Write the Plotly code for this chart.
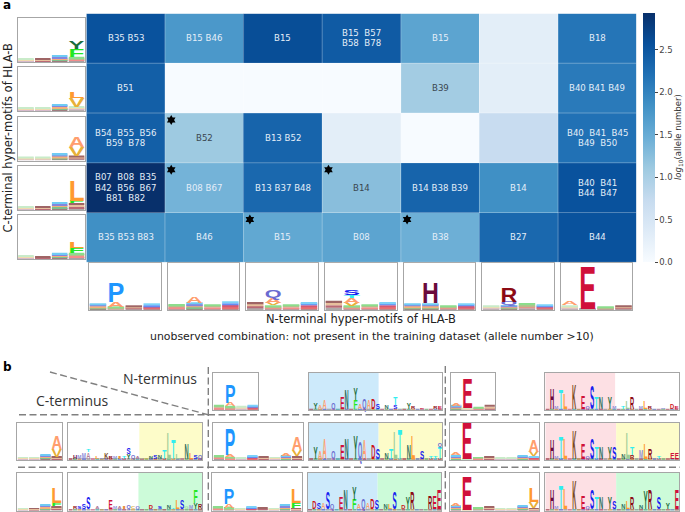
import plotly.graph_objects as go

W, H = 685, 512

# ---------- panel a data ----------
col_index = [0, 1, 2, 3, 4, 5, 6]
row_index = [0, 1, 2, 3, 4]
allele_log10 = [
    [2.55, 1.75, 2.60, 2.45, 1.60, 0.30, 2.15],
    [2.40, 0.00, 0.00, 0.00, 1.05, 0.30, 2.10],
    [2.40, 1.10, 2.35, 0.30, 0.00, 0.70, 2.20],
    [2.93, 1.40, 2.30, 1.25, 2.35, 1.85, 2.55],
    [1.85, 1.85, 1.55, 1.60, 1.45, 2.30, 2.55],
]
cell_labels = [
    [["B35 B53"], ["B15 B46"], ["B15"], ["B15  B57", "B58  B78"], ["B15"], [], ["B18"]],
    [["B51"], [], [], [], ["B39"], [], ["B40 B41 B49"]],
    [["B54  B55  B56", "B59  B78"], ["B52"], ["B13 B52"], [], [], [], ["B40  B41  B45", "B49  B50"]],
    [["B07  B08  B35", "B42  B56  B67", "B81  B82"], ["B08 B67"], ["B13 B37 B48"], ["B14"],
     ["B14 B38 B39"], ["B14"], ["B40  B41", "B44  B47"]],
    [["B35 B53 B83"], ["B46"], ["B15"], ["B08"], ["B38"], ["B27"], ["B44"]],
]
dark_label_cells = [(2, 1), (1, 4), (3, 3)]
star_cols = [1, 1, 3, 2, 4]
star_rows = [2, 3, 3, 4, 4]
cbar_ticks = [0.0, 0.5, 1.0, 1.5, 2.0, 2.5]
blues = ["#f7fbff", "#deebf7", "#c6dbef", "#9ecae1", "#6baed6", "#4292c6", "#2171b5", "#08519c", "#08306b"]

# ---------- logo colours ----------
letter_color = {
    "A": "#ff9e6e", "C": "#d8b030", "D": "#cc1018", "E": "#d0103a", "F": "#22e822", "G": "#a8d8a0",
    "H": "#6a0a3c", "I": "#e89040", "K": "#7a4a20", "L": "#ff9a30", "M": "#8f8fd8", "N": "#2f6f5f",
    "P": "#1e96ff", "Q": "#6a6ad0", "R": "#8c0a14", "S": "#1420f0", "T": "#30eef0", "V": "#e8b038",
    "W": "#40a0a0", "Y": "#1c6e3c", "l": "#9acb96", "a": "#b07a9a",
}
BRIGHT = ["#7c4a50", "#50a860", "#f09048", "#5858d0", "#38b8f0"]
PALE = ["#9a8f90", "#c8a0b8", "#eccc90", "#b4e4b4"]
HOT = ["#8a6a70", "#e03a3a", "#c81840", "#2a60f0", "#48c0f8"]
MAROON = ["#908888", "#a03040", "#e0a878", "#7a2a2a"]
GREEN = ["#8a7a80", "#f06060", "#a0a060", "#60d060"]
base_strip = ["#a04050", "#60a070", "#c08040", "#5060c0", "#909090", "#c06080", "#40a0a0", "#a08040",
              "#7060a0", "#b05050", "#60a070", "#5070c0", "#a04060", "#909090", "#c09040", "#4090a0",
              "#a05070", "#70a060", "#6060b0", "#b06040", "#809090", "#a04050", "#50a080", "#c08050",
              "#6070b0", "#a06080", "#70a070", "#b05060", "#6080b0", "#a04050"]

# ---------- logos: letters are (position, letter, height); strips are (position, height, palette) ----------
c_Y = dict(strips=[(0, .07, PALE), (1, .07, MAROON), (2, .15, BRIGHT), (3, .12, GREEN)],
           letters=[(3, "F", .17), (3, "Y", .17)])
c_L1 = dict(strips=[(0, .08, PALE), (1, .07, PALE), (2, .16, BRIGHT), (3, .10, PALE)],
            letters=[(3, "V", .20), (3, "L", .15)])
c_A = dict(strips=[(0, .07, PALE), (1, .07, PALE), (2, .17, BRIGHT), (3, .10, MAROON)],
           letters=[(3, "V", .21), (3, "A", .23)])
c_L2 = dict(strips=[(0, .08, PALE), (1, .08, MAROON), (2, .18, BRIGHT), (3, .16, MAROON)],
            letters=[(3, "F", .05), (3, "L", .45)])
c_L3 = dict(strips=[(0, .07, PALE), (1, .05, MAROON), (2, .14, BRIGHT), (3, .14, GREEN)],
            letters=[(3, "F", .10), (3, "L", .15)])
n_P = dict(strips=[(0, .14, BRIGHT), (1, .06, GREEN), (2, .09, MAROON), (3, .13, HOT)],
           letters=[(1, "A", .11), (1, "P", .41)])
n_A = dict(strips=[(0, .13, GREEN), (1, .16, BRIGHT), (2, .12, GREEN), (3, .18, HOT)],
           letters=[(1, "A", .14)])
n_Q = dict(strips=[(0, .17, MAROON), (1, .10, GREEN), (2, .12, GREEN), (3, .17, HOT)],
           letters=[(1, "V", .06), (1, "A", .10), (1, "Q", .16)])
n_S = dict(strips=[(0, .20, MAROON), (1, .08, GREEN), (2, .12, GREEN), (3, .17, HOT)],
           letters=[(1, "V", .08), (1, "A", .10), (1, "T", .06), (1, "S", .10)])
n_H = dict(strips=[(0, .14, BRIGHT), (1, .14, BRIGHT), (2, .10, GREEN), (3, .14, HOT)],
           letters=[(1, "H", .44)])
n_R = dict(strips=[(0, .10, PALE), (1, .10, BRIGHT), (2, .15, GREEN), (3, .12, HOT)],
           letters=[(1, "Q", .07), (1, "R", .30)])
n_E = dict(strips=[(0, .10, PALE), (1, .03, BRIGHT), (2, .07, GREEN), (3, .10, MAROON)],
           letters=[(0, "A", .08), (1, "E", .89)])

b_P = dict(strips=[(0, .13, GREEN), (1, .10, GREEN), (2, .09, PALE), (3, .13, HOT)],
           letters=[(1, "A", .10), (1, "P", .47)])
b_E = dict(strips=[(0, .12, BRIGHT), (1, .05, PALE), (2, .08, GREEN), (3, .12, MAROON)],
           letters=[(0, "A", .08), (1, "E", .79)])
b_A = dict(strips=[(0, .08, PALE), (1, .08, PALE), (2, .16, BRIGHT), (3, .09, MAROON)],
           letters=[(3, "V", .21), (3, "A", .34)])
b_L = dict(strips=[(0, .07, PALE), (1, .07, MAROON), (2, .17, BRIGHT), (3, .12, MAROON)],
           letters=[(3, "F", .08), (3, "L", .40)])
b_PA = dict(strips=[(0, .12, GREEN), (1, .08, GREEN), (2, .07, PALE), (3, .11, HOT), (4, .09, MAROON),
                    (5, .08, PALE), (6, .12, BRIGHT), (7, .10, MAROON)],
            letters=[(1, "A", .06), (1, "P", .68), (6, "A", .06), (7, "V", .16), (7, "A", .34)])
b_PL = dict(strips=[(0, .12, GREEN), (1, .08, GREEN), (2, .07, PALE), (3, .11, HOT), (4, .09, MAROON),
                    (5, .07, PALE), (6, .16, BRIGHT), (7, .07, MAROON)],
            letters=[(1, "A", .10), (1, "P", .41), (7, "F", .13), (7, "L", .37)])
b_EA = dict(strips=[(0, .13, BRIGHT), (1, .03, PALE), (2, .08, GREEN), (3, .09, MAROON), (4, .07, PALE),
                    (5, .06, PALE), (6, .12, BRIGHT), (7, .10, HOT)],
            letters=[(0, "A", .08), (1, "E", .95), (7, "V", .12), (7, "A", .32)])
b_EL = dict(strips=[(0, .13, BRIGHT), (1, .03, PALE), (2, .08, GREEN), (3, .10, MAROON), (4, .06, PALE),
                    (5, .06, PALE), (6, .14, BRIGHT), (7, .06, MAROON)],
            letters=[(0, "A", .07), (1, "E", .88), (7, "V", .18), (7, "L", .38)])

lg_C_row1 = [(1, "H", .09), (2, "M", .10), (3, "M", .16), (4, "a", .18), (4, "T", .08), (6, "L", .08), (7, "M", .03),
             (8, "K", .18), (9, "R", .06), (10, "M", .06), (11, "I", .06), (12, "T", .05), (13, "Y", .14), (13, "S", .18),
             (14, "Q", .11), (15, "a", .05), (16, "G", .03), (17, "V", .03), (18, "N", .05), (19, "S", .10), (20, "N", .10),
             (21, "T", .25), (22, "l", .68), (23, "T", .50), (24, "l", .14), (26, "N", .40), (27, "L", .18), (28, "S", .10)]
lg_C_row1b = [(29, "Q", .10)]
lg_C_row2 = [(1, "R", .05), (2, "S", .08), (3, "S", .12), (4, "S", .30), (6, "a", .05), (9, "E", .22), (10, "M", .06),
             (11, "a", .07), (12, "I", .05), (13, "Q", .10), (14, "C", .08), (15, "Q", .05), (18, "D", .10), (20, "S", .08)]
lg_C_row2b = [(22, "N", .10), (23, "T", .04), (24, "L", .25), (25, "S", .25), (26, "G", .05), (27, "M", .10), (28, "Y", .18),
              (28, "F", .34), (29, "R", .14)]
lg_N_top = [(1, "Y", .18), (2, "A", .10), (3, "A", .24), (5, "Q", .16), (7, "E", .30), (8, "N", .50), (10, "F", .24),
            (10, "Y", .30), (11, "A", .12), (12, "Q", .26), (13, "A", .22), (14, "D", .26), (15, "S", .14), (17, "N", .10),
            (19, "S", .10), (19, "T", .20), (21, "G", .04), (22, "Y", .16), (23, "R", .06), (25, "E", .04), (28, "R", .06),
            (29, "E", .08)]
lg_N_mid = [(1, "Y", .30), (2, "A", .20), (3, "A", .55), (5, "Q", .20), (7, "E", .36), (8, "N", .55), (10, "Y", .62),
            (11, "Q", .45), (12, "A", .50), (14, "D", .36), (15, "S", .26), (17, "N", .18), (18, "T", .26), (19, "l", .72),
            (20, "T", .78), (22, "N", .38), (23, "L", .62), (25, "S", .20), (27, "T", .06), (28, "T", .08), (29, "T", .32),
            (29, "Q", .10)]
lg_N_low = [(1, "D", .20), (2, "S", .18), (3, "A", .15), (4, "S", .42), (5, "Q", .14), (7, "E", .30), (8, "N", .50),
            (10, "F", .26), (10, "Y", .34), (11, "A", .12), (12, "Q", .28), (13, "A", .16), (14, "D", .28), (15, "S", .24),
            (17, "N", .12), (18, "L", .12), (19, "S", .45), (21, "D", .10), (22, "Y", .30), (23, "R", .45), (27, "R", .32),
            (28, "E", .34), (29, "E", .50)]
lg_E_top = [(1, "H", .55), (2, "M", .08), (3, "T", .50), (4, "L", .40), (6, "K", .65), (8, "E", .35), (9, "Q", .05),
            (10, "S", .60), (11, "T", .32), (12, "N", .30), (14, "Y", .32), (15, "M", .05), (17, "T", .08), (18, "l", .20),
            (19, "R", .30), (21, "M", .06), (22, "L", .20), (23, "R", .08), (26, "M", .04), (28, "D", .12), (29, "E", .06)]
lg_E_mid = [(1, "H", .50), (2, "M", .08), (3, "T", .60), (4, "L", .55), (6, "K", .75), (8, "E", .40), (9, "Q", .05),
            (10, "S", .55), (11, "T", .30), (12, "N", .30), (14, "Y", .30), (15, "S", .30), (17, "N", .12), (18, "l", .70),
            (19, "R", .10), (19, "T", .22), (21, "M", .24), (22, "L", .42), (23, "R", .26), (25, "T", .06), (28, "E", .18),
            (29, "E", .18)]
lg_E_low = [(1, "H", .50), (2, "M", .08), (3, "T", .60), (4, "L", .55), (6, "K", .75), (8, "E", .35), (9, "Q", .05),
            (10, "S", .50), (11, "T", .30), (12, "N", .30), (14, "Y", .30), (15, "S", .20), (17, "N", .14), (18, "L", .20),
            (19, "R", .30), (21, "N", .10), (22, "Y", .48), (23, "R", .50), (25, "S", .30), (27, "Y", .18), (29, "E", .50)]

shade_blue, shade_yellow, shade_green, shade_pink = "#cdeafb", "#fdfcc9", "#ccfbd9", "#fde0e4"


def fx(px):
    return px / W


def fy(py):
    return 1 - py / H


fig = go.Figure()
fig.add_trace(go.Heatmap(
    z=allele_log10, x=col_index, y=row_index, zmin=0, zmax=2.93,
    colorscale=[[i / 8, c] for i, c in enumerate(blues)], hoverinfo="skip",
    colorbar=dict(x=fx(642.7), xanchor="left", y=fy(262.3), yanchor="bottom", len=248.8 / H, lenmode="fraction",
                  thickness=12.3, thicknessmode="pixels", xpad=0, ypad=0, outlinewidth=0,
                  tickvals=cbar_ticks, ticktext=[f"{t:.1f}" for t in cbar_ticks], ticks="outside",
                  ticklen=3, tickwidth=1, tickcolor="#444", tickfont=dict(family="DejaVu Sans", size=8.5, color="#444")),
))
x0a, x1a, y0a, y1a = 86.3, 636.7, 13.5, 262.3
cell_w = (x1a - x0a) / 7
cell_h = (y1a - y0a) / 5
layout = dict(
    width=W, height=H, margin=dict(l=0, r=0, t=0, b=0), paper_bgcolor="white", plot_bgcolor="white",
    showlegend=False, barmode="overlay", autosize=False,
    xaxis=dict(domain=[fx(x0a), fx(x1a)], range=[-0.5, 6.5], visible=False),
    yaxis=dict(domain=[fy(y1a), fy(y0a)], range=[4.5, -0.5], visible=False),
)
annotations = []
shapes = []

# faint cell borders of the heatmap
for c in range(8):
    shapes.append(dict(type="line", xref="x", yref="y", x0=c - 0.5, x1=c - 0.5, y0=-0.5, y1=4.5,
                       line=dict(color="rgba(255,255,255,0.3)", width=1)))
for r in range(6):
    shapes.append(dict(type="line", xref="x", yref="y", x0=-0.5, x1=6.5, y0=r - 0.5, y1=r - 0.5,
                       line=dict(color="rgba(255,255,255,0.3)", width=1)))


def note(text, px, py, size, family="DejaVu Sans", color="#222", angle=0, anchor="center", weight=None):
    font = dict(family=family, size=size, color=color)
    if weight:
        font["weight"] = weight
    annotations.append(dict(text=text, x=fx(px), y=fy(py), xref="paper", yref="paper", showarrow=False,
                            font=font, textangle=angle, xanchor=anchor, yanchor="middle"))


for r, row in enumerate(cell_labels):
    for c, lines in enumerate(row):
        for i, line in enumerate(lines):
            col = "#3a4650" if (r, c) in dark_label_cells else "#e4eef8"
            annotations.append(dict(text=line, x=c, y=r, xref="x", yref="y", showarrow=False,
                                    yshift=(len(lines) - 1) / 2 * 10.2 - i * 10.2,
                                    font=dict(family="DejaVu Sans", size=8.6, color=col)))

fig.add_trace(go.Scatter(
    x=[c - 0.42 for c in star_cols] + [-0.5 + (139 - x0a) / cell_w],
    y=[r - 0.36 for r in star_rows] + [4.5 + (336 - y1a) / cell_h],
    mode="markers", cliponaxis=False, hoverinfo="skip",
    marker=dict(symbol="hexagram", size=7.5, color="black"),
))

axis_id = [1]


def add_logo(box, spec, n, shades=None):
    """box = frame edges in pixels; spec holds strip and letter values, drawn on the logo's own axes."""
    x0, x1, y0, y1 = box
    axis_id[0] += 1
    k = axis_id[0]
    layout[f"xaxis{k}"] = dict(domain=[fx(x0), fx(x1)], range=[-0.5, n - 0.5], anchor=f"y{k}", showgrid=False,
                               zeroline=False, showticklabels=False, ticks="", showline=True, mirror=True,
                               linecolor="#a6a6a6", linewidth=1)
    layout[f"yaxis{k}"] = dict(domain=[fy(y1), fy(y0)], range=[0, 1], anchor=f"x{k}", showgrid=False,
                               zeroline=False, showticklabels=False, ticks="", showline=True, mirror=True,
                               linecolor="#a6a6a6", linewidth=1)
    ax = dict(xaxis=f"x{k}", yaxis=f"y{k}")
    for start, stop, color in shades or []:
        fig.add_trace(go.Bar(x=[(start + stop) / 2], y=[1], base=[0], width=[stop - start], marker=dict(color=color, line_width=0),
                             hoverinfo="skip", **ax))
    totals = {}
    bx, by, bb, bc = [], [], [], []
    for pos, height, palette in spec.get("strips", []):
        seg = height / len(palette)
        for j, col in enumerate(palette):
            bx.append(pos); by.append(seg); bb.append(j * seg); bc.append(col)
        totals[pos] = height
    if bx:
        fig.add_trace(go.Bar(x=bx, y=by, base=bb, width=0.92, opacity=0.72,
                             marker=dict(color=bc, line_width=0), hoverinfo="skip", **ax))
    tx, ty, tt, tc, cd = [], [], [], [], []
    w_px = (x1 - x0) / n
    h_px = y1 - y0
    for pos, letter, height in spec["letters"]:
        base = totals.get(pos, 0)
        tx.append(pos); ty.append(base); tt.append(letter.upper()); tc.append(letter_color[letter])
        cd.append([w_px * 0.94, height * h_px])
        totals[pos] = base + height
    fig.add_trace(go.Scatter(x=tx, y=ty, text=tt, mode="text", textposition="top center", customdata=cd, hoverinfo="skip",
                             textfont=dict(family="Liberation Sans", size=10, color=tc, weight="bold"),
                             cliponaxis=False, **ax))


def long_logo(letters):
    return dict(strips=[(p, .035, [base_strip[p]]) for p in range(30)], letters=letters)


# panel a logos
left_tops = [(18, 62), (67, 111), (116.5, 160.5), (166, 210), (215, 259)]
for (t, b), spec in zip(left_tops, [c_Y, c_L1, c_A, c_L2, c_L3]):
    add_logo((17.5, 85, t, b), spec, 4)
for i, spec in enumerate([n_P, n_A, n_Q, n_S, n_H, n_R, n_E]):
    add_logo((89 + i * cell_w, 160.7 + i * cell_w, 263.3, 310), spec, 4)

# panel b logos
R0, R1, R2 = (372.7, 410), (423, 460), (473, 510.7)
add_logo((213.3, 258.3, *R0), b_P, 4)
add_logo((309, 442, *R0), long_logo(lg_N_top), 30, [(-0.5, 15.2, shade_blue)])
add_logo((450.7, 495.3, *R0), b_E, 4)
add_logo((545.3, 678.7, *R0), long_logo(lg_E_top), 30, [(-0.5, 15.2, shade_pink)])

add_logo((17.3, 62.3, *R1), b_A, 4)
add_logo((68.3, 202.3, *R1), long_logo(lg_C_row1 + lg_C_row1b), 30, [(15.4, 29.5, shade_yellow)])
add_logo((213.3, 302.7, *R1), b_PA, 8)
add_logo((309, 442, *R1), long_logo(lg_N_mid), 30, [(-0.5, 15.2, shade_blue), (15.2, 29.5, shade_yellow)])
add_logo((450.3, 539.3, *R1), b_EA, 8)
add_logo((545.3, 679, *R1), long_logo(lg_E_mid), 30, [(-0.5, 15.4, shade_pink), (15.4, 29.5, shade_yellow)])

add_logo((17.3, 62, *R2), b_L, 4)
add_logo((68.3, 202.3, *R2), long_logo(lg_C_row2 + lg_C_row2b), 30, [(15.2, 29.5, shade_green)])
add_logo((212.3, 301.7, *R2), b_PL, 8)
add_logo((307.7, 441.3, *R2), long_logo(lg_N_low), 30, [(-0.5, 15.2, shade_blue), (15.2, 29.5, shade_green)])
add_logo((450.3, 539.3, *R2), b_EL, 8)
add_logo((545.3, 679, *R2), long_logo(lg_E_low), 30, [(-0.5, 15.4, shade_pink), (15.4, 29.5, shade_green)])

# divider lines of panel b
dash_style = dict(color="#808080", width=1.4, dash="7px,3.5px")
for xa, ya, xb, yb in [(19, 414.7, 680, 414.7), (18, 467.3, 680, 467.3), (208.3, 367, 208.3, 512), (445.3, 366, 445.3, 512), (50, 372, 208, 414.7)]:
    shapes.append(dict(type="line", xref="paper", yref="paper", x0=fx(xa), y0=fy(ya), x1=fx(xb), y1=fy(yb), line=dash_style))

# texts
note("a", 1, 5, 12, weight="bold", family="DejaVu Sans", color="black", anchor="left")
note("b", 1, 367, 12, weight="bold", family="DejaVu Sans", color="black", anchor="left")
note("C-terminal hyper-motifs of HLA-B", 7, 137.5, 11.5, angle=-90)
note("N-terminal hyper-motifs of HLA-B", 361, 319, 11.5)
note("unobserved combination: not present in the training dataset (allele number >10)", 372.5, 336, 10.9)
note("<i>log</i><sub>10</sub>(allele number)", 678, 137, 8.5, angle=-90, color="#333")
note("N-terminus", 160, 378, 14, family="Open Sans", color="#333")
note("C-terminus", 72, 400, 14, family="Open Sans", color="#333")

layout["annotations"] = annotations
layout["shapes"] = shapes
fig.update_layout(**layout)

stretch_letters = """
document.body.style.margin = '0';
var gd = document.getElementById('{plot_id}');
gd.querySelectorAll('.textpoint text').forEach(function (t) {
  var g = t.parentNode, d = g.__data__, tr = t.closest('.trace');
  if (!d || !tr || !tr.__data__) return;
  var cd = tr.__data__[0].trace.customdata;
  if (!cd || !cd[d.i]) return;
  g.removeAttribute('transform');
  var x = +t.getAttribute('x'), y = +t.getAttribute('y');
  var sx = cd[d.i][0] / t.getComputedTextLength(), sy = cd[d.i][1] / 6.88;
  t.setAttribute('transform', 'translate(' + x + ',' + y + ') scale(' + sx + ',' + sy + ') translate(' + (-x) + ',' + (-y) + ')');
});
"""
fig.write_html("out.html", post_script=stretch_letters, config={"displayModeBar": False})
